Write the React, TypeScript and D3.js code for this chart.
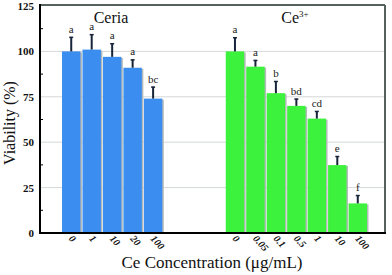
import React from 'react';
import * as d3 from 'd3';

// Ceria group
const ceriaConc = ['0', '1', '10', '20', '100'];
const ceriaMean = [100, 101, 97, 91, 74];
const ceriaErr = [108, 109.5, 104.5, 95.6, 80.6];
const ceriaSig = ['a', 'a', 'a', 'a', 'bc'];

// Ce3+ group
const ionConc = ['0', '0.05', '0.1', '0.5', '1', '10', '100'];
const ionMean = [100, 91.6, 77, 70, 63, 37.4, 16.3];
const ionErr = [107.8, 95.3, 83.7, 74, 67.2, 42.4, 20.9];
const ionSig = ['a', 'a', 'b', 'bd', 'cd', 'e', 'f'];

const yTicks = [0, 25, 50, 75, 100, 125];

const W = 392;
const H = 275;
const left = 40;
const right = 385;
const top = 6;
const bottom = 233;

const serif = '"Liberation Serif", "DejaVu Serif", serif';

const App = () => {
  const keys = [
    ...ceriaConc.map(c => 'ceria-' + c),
    'gap1', 'gap2', 'gap3',
    ...ionConc.map(c => 'ion-' + c),
  ];
  const x = d3.scaleBand<string>().domain(keys).range([61, 368]).paddingInner(0.1).paddingOuter(0.05);
  const y = d3.scaleLinear().domain([0, 125]).range([bottom, top]);

  const rows = [
    ...ceriaConc.map((c, i) => ({ key: 'ceria-' + c, label: c, v: ceriaMean[i], e: ceriaErr[i], s: ceriaSig[i], color: '#3b8ef0' })),
    ...ionConc.map((c, i) => ({ key: 'ion-' + c, label: c, v: ionMean[i], e: ionErr[i], s: ionSig[i], color: '#3df23d' })),
  ];

  const bw = x.bandwidth();
  const minorTicks = d3.range(12.5, 125, 25);

  return (
    <svg width={W} height={H} style={{ position: 'absolute', left: 0, top: 0, background: '#fff' }}>
      {/* grid lines */}
      {yTicks.filter(t => t > 0 && t < 125).map(t => (
        <line key={t} x1={left} x2={right} y1={y(t)} y2={y(t)} stroke="#d4d8d8" strokeWidth={1} />
      ))}
      {/* frame top/right */}
      <line x1={left} x2={right} y1={top - 1} y2={top - 1} stroke="#55605f" strokeWidth={2} />
      <line x1={right} x2={right} y1={top - 1} y2={bottom} stroke="#55605f" strokeWidth={2} />

      {/* bars */}
      {rows.map(r => (
        <g key={r.key}>
          <rect x={x(r.key)! + 1.5} y={y(r.v) + 1} width={bw} height={bottom - y(r.v) - 1} fill="#b4baba" />
          <rect x={x(r.key)} y={y(r.v)} width={bw} height={bottom - y(r.v)} fill={r.color} />
          <line x1={x(r.key)! + bw / 2} x2={x(r.key)! + bw / 2} y1={y(r.v)} y2={y(r.e)} stroke="#17243a" strokeWidth={2} />
          <line x1={x(r.key)! + bw / 2 - 2} x2={x(r.key)! + bw / 2 + 2} y1={y(r.e) + 0.5} y2={y(r.e) + 0.5} stroke="#17243a" strokeWidth={1.5} />
          <text x={x(r.key)! + bw / 2} y={y(r.e) - 4} textAnchor="middle" fontFamily={serif} fontSize={11} fill="#222">{r.s}</text>
          <text
            transform={`translate(${x(r.key)! + bw / 2 - 3},${bottom + 6}) rotate(48)`}
            fontFamily={serif} fontSize={10} fontWeight="bold" fontStyle="italic" fill="#111"
          >{r.label}</text>
        </g>
      ))}

      {/* axes */}
      <line x1={left} x2={left} y1={top - 2} y2={bottom + 1} stroke="#000" strokeWidth={2} />
      <line x1={left - 1} x2={right + 1} y1={bottom} y2={bottom} stroke="#000" strokeWidth={2} />
      {minorTicks.map(t => (
        <line key={'m' + t} x1={left} x2={left + 3} y1={y(t)} y2={y(t)} stroke="#000" strokeWidth={1} />
      ))}
      {yTicks.map(t => (
        <text key={'l' + t} x={34} y={y(t) + 4} textAnchor="end" fontFamily={serif} fontSize={11} fontWeight="bold" fill="#111">{t}</text>
      ))}

      {/* group titles */}
      <text x={111} y={23} textAnchor="middle" fontFamily={serif} fontSize={16} fill="#111">Ceria</text>
      <text x={295} y={23} fontFamily={serif} fontSize={16} fill="#111" textAnchor="middle">
        Ce<tspan fontSize={9} dy={-6}>3+</tspan>
      </text>

      {/* axis titles */}
      <text transform={`translate(15,123) rotate(-90)`} textAnchor="middle" fontFamily={serif} fontSize={16} fill="#111">Viability (%)</text>
      <text x={212} y={268} textAnchor="middle" fontFamily={serif} fontSize={17} fill="#111">Ce Concentration (μg/mL)</text>
    </svg>
  );
};

export default App;
